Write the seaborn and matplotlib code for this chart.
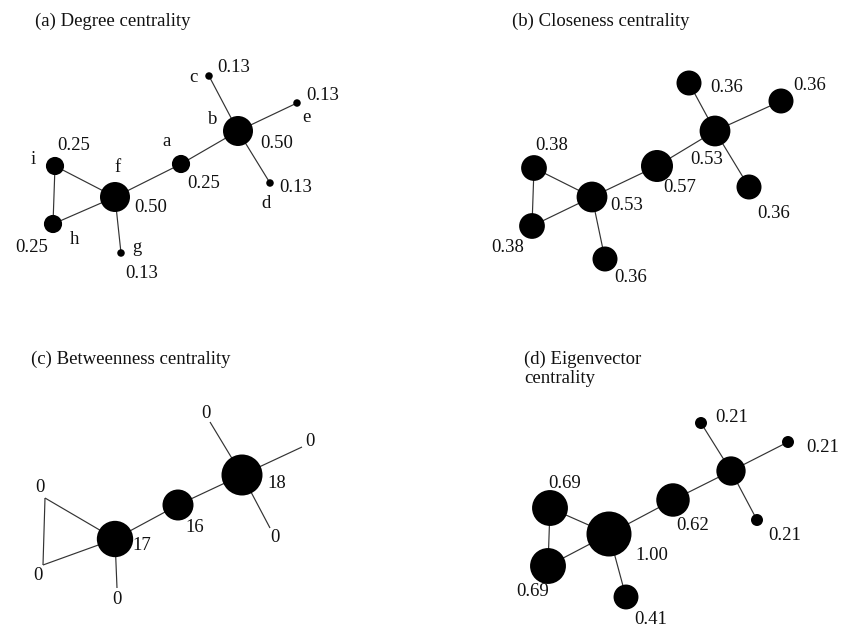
"""Four centrality views of the same small network, drawn on one pixel canvas."""

import matplotlib.pyplot as plt
import pandas as pd
import seaborn as sns

# --- data -------------------------------------------------------------
NODES = ["a", "b", "c", "d", "e", "f", "g", "h", "i"]
EDGES = [("c", "b"), ("e", "b"), ("d", "b"), ("b", "a"), ("a", "f"),
         ("f", "i"), ("f", "h"), ("i", "h"), ("f", "g")]

DEGREE = [0.25, 0.50, 0.13, 0.13, 0.13, 0.50, 0.13, 0.25, 0.25]
CLOSENESS = [0.57, 0.53, 0.36, 0.36, 0.36, 0.53, 0.36, 0.38, 0.38]
BETWEENNESS = [16, 18, 0, 0, 0, 17, 0, 0, 0]
EIGENVECTOR = [0.62, 0.51, 0.21, 0.21, 0.21, 1.00, 0.41, 0.69, 0.69]
EIGEN_SHOWN = [True, False, True, True, True, True, True, True, True]

TITLES = ["(a) Degree centrality", "(b) Closeness centrality",
          "(c) Betweenness centrality", "(d) Eigenvector\ncentrality"]

# --- layout (pixel canvas, origin top-left) ---------------------------
W, H = 842, 628

POS = {
    "a": {"a": (181, 164), "b": (238, 131), "c": (209, 76), "d": (270, 183), "e": (297, 103),
          "f": (115, 197), "g": (121, 253), "h": (53, 224), "i": (55, 166)},
    "b": {"a": (657, 166), "b": (715, 131), "c": (689, 83), "d": (749, 187), "e": (781, 101),
          "f": (592, 197), "g": (605, 259), "h": (532, 226), "i": (534, 168)},
    "c": {"a": (178, 505), "b": (242, 475), "c": (210, 422), "d": (270, 528), "e": (302, 447),
          "f": (115, 539), "g": (117, 588), "h": (43, 565), "i": (45, 498)},
    "d": {"a": (673, 500), "b": (731, 471), "c": (701, 423), "d": (757, 520), "e": (788, 442),
          "f": (609, 534), "g": (626, 597), "h": (548, 566), "i": (550, 508)},
}
VALUE_POS = {
    "a": {"a": (204, 183), "b": (277, 143), "c": (234, 67), "d": (296, 187), "e": (323, 95),
          "f": (151, 207), "g": (142, 273), "h": (32, 248), "i": (74, 145)},
    "b": {"a": (680, 188), "b": (707, 160), "c": (727, 87), "d": (774, 214), "e": (810, 86),
          "f": (627, 206), "g": (631, 277), "h": (508, 248), "i": (552, 145)},
    "c": {"a": (195, 528), "b": (277, 483), "c": (206, 413), "d": (275, 538), "e": (310, 442),
          "f": (142, 546), "g": (117, 600), "h": (38, 575), "i": (40, 488)},
    "d": {"a": (693, 526), "b": (0, 0), "c": (732, 417), "d": (785, 535), "e": (823, 447),
          "f": (652, 556), "g": (651, 620), "h": (533, 592), "i": (565, 483)},
}
LETTER_POS = {"a": (167, 142), "b": (213, 120), "c": (193, 78), "d": (266, 203), "e": (306, 117),
              "f": (118, 167), "g": (137, 247), "h": (74, 239), "i": (33, 160)}
TITLE_POS = [(35, 21), (512, 21), (31, 359), (524, 369)]


def area(diam_px: float) -> float:
    """Marker area in pt^2 for a diameter in pixels at 100 dpi."""
    return (diam_px * 0.72) ** 2


PANELS = [
    ("a", DEGREE, "{:.2f}", (0.13, 0.50), (area(7.5), area(30))),
    ("b", CLOSENESS, "{:.2f}", (0.36, 0.57), (area(25), area(32))),
    ("c", BETWEENNESS, "{:d}", (14, 18), (area(15.5), area(41))),
    ("d", EIGENVECTOR, "{:.2f}", (0.21, 1.00), (area(12), area(45))),
]

sns.set_theme(style="white")
plt.rcParams["font.family"] = ["Liberation Serif", "DejaVu Serif"]
FS = 13.5

fig = plt.figure(figsize=(W / 100, H / 100), dpi=100)
ax = fig.add_axes([0, 0, 1, 1])

for (key, values, fmt, norm, sizes), title, tpos in zip(PANELS, TITLES, TITLE_POS):
    pos = POS[key]
    df = pd.DataFrame({
        "node": NODES,
        "value": values,
        "x": [pos[n][0] for n in NODES],
        "y": [pos[n][1] for n in NODES],
    })

    for u, v in EDGES:
        ax.plot([pos[u][0], pos[v][0]], [pos[u][1], pos[v][1]],
                color="#333333", lw=0.85, zorder=1, solid_capstyle="butt")

    sns.scatterplot(data=df[df["value"] > 0], x="x", y="y", size="value",
                    sizes=sizes, size_norm=norm, color="black", linewidth=0,
                    legend=False, ax=ax, zorder=2)

    for i, n in enumerate(NODES):
        if key == "d" and not EIGEN_SHOWN[i]:
            continue
        lx, ly = VALUE_POS[key][n]
        ax.text(lx, ly, fmt.format(values[i]), ha="center", va="center",
                fontsize=FS, color="#111111")

    ax.text(tpos[0], tpos[1], title, ha="left", va="center", fontsize=FS,
            color="#111111", linespacing=1.2)

for n in NODES:
    lx, ly = LETTER_POS[n]
    ax.text(lx, ly, n, ha="center", va="center", fontsize=FS, color="#111111")

ax.set_xlim(0, W)
ax.set_ylim(H, 0)
ax.axis("off")
fig.savefig("out.png", dpi=100)
plt.close(fig)
